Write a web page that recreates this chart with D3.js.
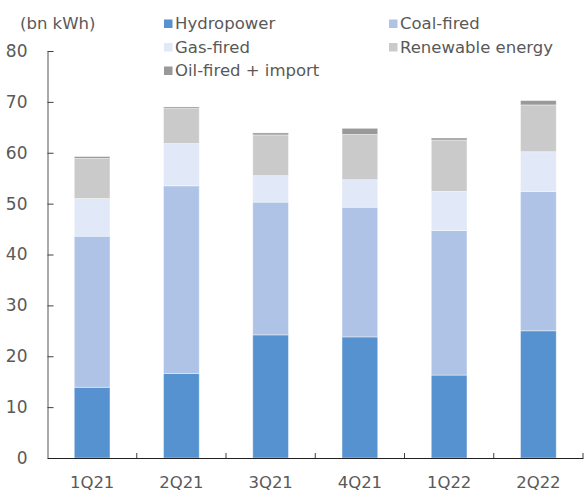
<!DOCTYPE html>
<html>
<head>
<meta charset="utf-8">
<script src="https://cdn.jsdelivr.net/npm/d3@7"></script>
<style>
  html, body { margin: 0; padding: 0; background: #fff; }
  svg text { font-family: "DejaVu Sans", sans-serif; fill: #595959; }
</style>
</head>
<body>
<svg id="chart" width="584" height="491"></svg>
<script>
// Quarterly power generation by source (bn kWh)
const quarters = ["1Q21", "2Q21", "3Q21", "4Q21", "1Q22", "2Q22"];
const hydropower = [13.9, 16.6, 24.2, 23.8, 16.3, 25.0];
const coalFired  = [29.7, 36.9, 26.1, 25.5, 28.4, 27.4];
const gasFired   = [7.4, 8.3, 5.2, 5.4, 7.7, 7.8];
const renewable  = [7.9, 6.9, 8.0, 8.9, 10.1, 9.2];
const oilImport  = [0.35, 0.3, 0.4, 1.2, 0.4, 0.85];
const seriesNames = ["Hydropower", "Coal-fired", "Gas-fired", "Renewable energy", "Oil-fired + import"];
const seriesColors = ["#5592cf", "#aec3e5", "#e1e8f7", "#cacaca", "#999999"];
const yTicks = [0, 10, 20, 30, 40, 50, 60, 70, 80];
const unitLabel = "(bn kWh)";

const svg = d3.select("#chart");
const margin = { left: 47.5, right: 1, top: 51, bottom: 33 };
const W = 584, H = 491;

const rows = quarters.map((q, i) => ({
  q,
  "Hydropower": hydropower[i],
  "Coal-fired": coalFired[i],
  "Gas-fired": gasFired[i],
  "Renewable energy": renewable[i],
  "Oil-fired + import": oilImport[i]
}));

const x = d3.scaleBand().domain(quarters)
  .range([margin.left, W - margin.right]).paddingInner(0.6).paddingOuter(0.3);
const y = d3.scaleLinear().domain([0, 80]).range([H - margin.bottom, margin.top]);
const color = d3.scaleOrdinal().domain(seriesNames).range(seriesColors);

const stacked = d3.stack().keys(seriesNames)(rows);

// Stacked bars
svg.append("g").selectAll("g").data(stacked).join("g")
  .attr("fill", d => color(d.key))
  .selectAll("rect").data(d => d).join("rect")
  .attr("x", d => x(d.data.q))
  .attr("width", x.bandwidth())
  .attr("y", d => y(d[1]))
  .attr("height", d => y(d[0]) - y(d[1]))
  .attr("stroke", "#ffffff")
  .attr("stroke-opacity", 0.5)
  .attr("stroke-width", 0.8);

// Y axis with inward ticks
const yAxis = svg.append("g")
  .attr("transform", `translate(${margin.left},0)`)
  .call(d3.axisLeft(y).tickValues(yTicks).tickSize(-6).tickPadding(20).tickSizeOuter(0));
yAxis.select(".domain").attr("stroke", "#555");
yAxis.selectAll(".tick line").attr("stroke", "#404040");
yAxis.selectAll("text").style("font-size", "17px").attr("fill", "#595959");

// X axis with category separators
const xAxis = svg.append("g")
  .attr("transform", `translate(0,${y(0)})`)
  .call(d3.axisBottom(x).tickSize(0).tickPadding(18));
xAxis.select(".domain").attr("stroke", "#222").attr("stroke-width", 1.2);
xAxis.selectAll("text").style("font-size", "16.5px").attr("fill", "#595959");
const seps = d3.range(quarters.length + 1)
  .map(i => margin.left + i * (W - margin.right - margin.left) / quarters.length).slice(1);
xAxis.append("g").selectAll("line").data(seps).join("line")
  .attr("x1", d => d).attr("x2", d => d)
  .attr("y1", 0).attr("y2", -5)
  .attr("stroke", "#404040");

// Unit label
svg.append("text").attr("x", 20).attr("y", 29)
  .style("font-size", "16.5px").text(unitLabel);

// Legend
const legendPos = [
  [164, 29], [389, 29],
  [164, 52.5], [389, 52.5],
  [164, 76]
];
const lg = svg.append("g").selectAll("g").data(seriesNames).join("g")
  .attr("transform", (d, i) => `translate(${legendPos[i][0]},${legendPos[i][1]})`);
lg.append("rect").attr("x", 0).attr("y", -9.5).attr("width", 8.5).attr("height", 8.5)
  .attr("fill", d => color(d));
lg.append("text").attr("x", 11).attr("y", 0)
  .style("font-size", "16.5px").text(d => d);
</script>
</body>
</html>
